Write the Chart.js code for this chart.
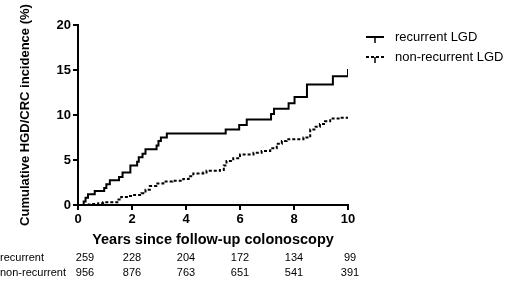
<!DOCTYPE html>
<html>
<head>
<meta charset="utf-8">
<script src="https://cdn.jsdelivr.net/npm/chart.js@4"></script>
<style>
  html, body { margin: 0; padding: 0; background: #fff; }
  #wrap { width: 520px; height: 281px; position: relative; }
</style>
</head>
<body>
<div id="wrap"><canvas id="km"></canvas></div>
<script>
// Kaplan-Meier style cumulative incidence
const recurrentYears = [0, 0.21, 0.28, 0.37, 0.62, 0.97, 1.05, 1.18, 1.52, 1.65, 1.94, 2.19, 2.25, 2.39, 2.5, 2.91, 2.98, 3.07, 3.29, 5.47, 5.97, 6.25, 7.15, 7.26, 7.8, 8.02, 8.48, 9.44, 10, 10];
const recurrentPct = [0, 0.4, 0.8, 1.2, 1.55, 1.9, 2.3, 2.75, 3.1, 3.6, 4.4, 4.8, 5.3, 5.7, 6.2, 6.6, 7.1, 7.5, 7.95, 8.4, 8.9, 9.5, 10.1, 10.7, 11.3, 12.0, 13.4, 14.3, 14.3, 15.1];

const nonRecurrentYears = [0, 0.4, 0.56, 0.75, 0.93, 1.36, 1.5, 1.6, 1.85, 2.04, 2.35, 2.5, 2.66, 2.9, 3.16, 3.5, 3.9, 4.1, 4.27, 4.64, 4.76, 5.26, 5.4, 5.5, 5.75, 6.0, 6.5, 6.8, 7.12, 7.36, 7.55, 7.73, 8.35, 8.6, 8.8, 8.96, 9.15, 9.34, 9.7, 10];
const nonRecurrentPct = [0, 0.05, 0.1, 0.2, 0.3, 0.3, 0.6, 0.9, 1.0, 1.1, 1.3, 1.7, 2.1, 2.4, 2.6, 2.7, 2.9, 3.2, 3.5, 3.6, 3.8, 3.9, 4.4, 4.9, 5.2, 5.6, 5.8, 6.0, 6.3, 6.8, 7.1, 7.3, 7.5, 8.4, 8.7, 9.0, 9.3, 9.6, 9.7, 9.9];

// numbers at risk
const riskYears = [0, 2, 4, 6, 8, 10];
const riskRecurrent = [259, 228, 204, 172, 134, 99];
const riskNonRecurrent = [956, 876, 763, 651, 541, 391];

const FONT = "'Liberation Sans', Arial, sans-serif";

function toPoints(xs, ys) {
  return xs.map((x, i) => ({ x: x, y: ys[i] }));
}

// legend sample: line with a small censor tick
function legendIcon(dashed) {
  const c = document.createElement("canvas");
  c.width = 18; c.height = 10;
  const g = c.getContext("2d");
  g.strokeStyle = "#000";
  g.lineWidth = 2;
  if (dashed) g.setLineDash([3, 2]);
  g.beginPath(); g.moveTo(0, 3); g.lineTo(18, 3); g.stroke();
  g.setLineDash([]);
  g.lineWidth = 1.5;
  g.beginPath(); g.moveTo(9, 3); g.lineTo(9, 9); g.stroke();
  return c;
}

const extras = {
  id: "extras",
  afterDraw(chart) {
    const ctx = chart.ctx;
    const xs = chart.scales.x;
    ctx.save();
    ctx.fillStyle = "#000";
    // risk table
    ctx.font = "11px " + FONT;
    ctx.textBaseline = "middle";
    ctx.textAlign = "left";
    ctx.fillText("recurrent", 0, 258);
    ctx.fillText("non-recurrent", 0, 273);
    ctx.textAlign = "center";
    riskYears.forEach((yr, i) => {
      let px = xs.getPixelForValue(yr);
      if (i === 0) px += 7;
      if (i === riskYears.length - 1) px += 2;
      ctx.fillText(String(riskRecurrent[i]), px, 258);
      ctx.fillText(String(riskNonRecurrent[i]), px, 273);
    });
    // legend
    ctx.font = "13px " + FONT;
    ctx.textAlign = "left";
    chart.data.datasets.forEach((ds, i) => {
      const y = 37 + i * 20;
      ctx.drawImage(legendIcon(i === 1), 366, y - 3);
      ctx.fillText(ds.label, 395, y);
    });
    ctx.restore();
  }
};

new Chart(document.getElementById("km").getContext("2d"), {
  type: "line",
  data: {
    datasets: [
      {
        label: "recurrent LGD",
        data: toPoints(recurrentYears, recurrentPct),
        borderColor: "#000",
        borderWidth: 2,
        stepped: "before",
        pointRadius: 0,
        fill: false,
      },
      {
        label: "non-recurrent LGD",
        data: toPoints(nonRecurrentYears, nonRecurrentPct),
        borderColor: "#000",
        borderWidth: 2,
        borderDash: [3, 2],
        stepped: "before",
        pointRadius: 0,
        fill: false,
      },
    ],
  },
  options: {
    responsive: true,
    maintainAspectRatio: false,
    animation: false,
    layout: {
      padding: { top: 25, right: 172, bottom: 28, left: 0 },
    },
    plugins: {
      legend: { display: false },
      tooltip: { enabled: false },
    },
    scales: {
      x: {
        type: "linear",
        min: 0,
        max: 10,
        afterFit: (s) => { s.height = 48; },
        border: { display: true, color: "#000", width: 2 },
        grid: { drawOnChartArea: false, drawTicks: true, tickLength: 5, color: "#000", lineWidth: 2 },
        ticks: {
          stepSize: 2,
          color: "#000",
          padding: 2,
          font: { family: FONT, size: 13, weight: "bold" },
        },
        title: {
          display: true,
          text: "Years since follow-up colonoscopy",
          color: "#000",
          padding: { top: 0, bottom: 4 },
          font: { family: FONT, size: 14.5, weight: "bold" },
        },
      },
      y: {
        min: 0,
        max: 20,
        afterFit: (s) => { s.width = 78; },
        border: { display: true, color: "#000", width: 2 },
        grid: { drawOnChartArea: false, drawTicks: true, tickLength: 5, color: "#000", lineWidth: 2 },
        ticks: {
          stepSize: 5,
          color: "#000",
          padding: 2,
          font: { family: FONT, size: 13, weight: "bold" },
        },
        title: {
          display: true,
          text: "Cumulative HGD/CRC incidence (%)",
          color: "#000",
          padding: { top: 18, bottom: 0 },
          font: { family: FONT, size: 13, weight: "bold" },
        },
      },
    },
  },
  plugins: [extras],
});
</script>
</body>
</html>
